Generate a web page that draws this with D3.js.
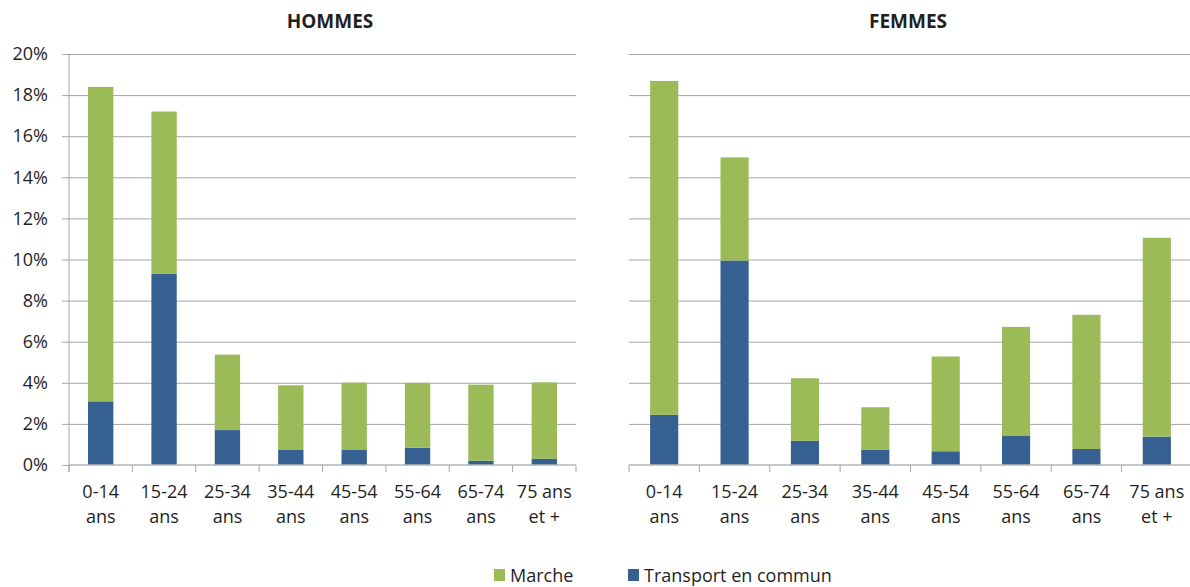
<!DOCTYPE html>
<html>
<head>
<meta charset="utf-8">
<script src="https://cdn.jsdelivr.net/npm/d3@7"></script>
<style>
  body { margin: 0; background: #fff; }
  text { font-family: "Open Sans", "Noto Sans", sans-serif; fill: #1f1f1f; }
</style>
</head>
<body>
<div id="chart"></div>
<script>
// age groups, each label on two lines
var ageGroups = ["0-14|ans", "15-24|ans", "25-34|ans", "35-44|ans", "45-54|ans", "55-64|ans", "65-74|ans", "75 ans|et +"];
var yTicks = [0, 2, 4, 6, 8, 10, 12, 14, 16, 18, 20];

// HOMMES (% of trips)
var hommesTransport = [3.1, 9.3, 1.7, 0.73, 0.73, 0.84, 0.21, 0.31];
var hommesMarche    = [15.3, 7.9, 3.67, 3.15, 3.28, 3.16, 3.70, 3.71];
// FEMMES
var femmesTransport = [2.44, 9.95, 1.18, 0.75, 0.67, 1.41, 0.78, 1.38];
var femmesMarche    = [16.25, 5.02, 3.04, 2.06, 4.61, 5.31, 6.53, 9.68];

var colTransport = "#376092";
var colMarche = "#9bbb59";

var svg = d3.select("#chart").append("svg")
    .attr("width", 1190)
    .attr("height", 587);

var y = d3.scaleLinear().domain([0, 20]).range([465, 54]);

function drawPanel(title, transport, marche, x0, x1, titleX, showAxis) {
    var g = svg.append("g");
    var x = d3.scaleBand().domain(ageGroups).range([x0, x1])
        .paddingInner(0.6).paddingOuter(0.3);
    var cat = d3.scaleBand().domain(ageGroups).range([x0, x1]);

    // gridlines
    g.append("g")
        .attr("transform", `translate(${x0},0)`)
        .call(d3.axisRight(y).tickValues(yTicks.slice(1)).tickSize(x1 - x0).tickFormat(""))
        .call(s => s.select(".domain").remove())
        .call(s => s.selectAll("line").attr("stroke", "#a5a5a5"));

    if (showAxis) {
        g.append("g")
            .attr("transform", `translate(${x0},0)`)
            .call(d3.axisLeft(y).tickValues(yTicks).tickSize(7).tickPadding(14).tickFormat(d => d + "%"))
            .call(s => s.select(".domain").attr("stroke", "#a5a5a5").attr("d", `M0,${y(20)}V${y(0) + 7}`))
            .call(s => s.selectAll("line").attr("stroke", "#a5a5a5"))
            .call(s => s.selectAll("text").style("font-size", "18px").attr("fill", "#1f1f1f"));
    }

    var data = ageGroups.map((a, i) => ({ age: a, t: transport[i], m: marche[i] }));

    g.selectAll("rect.t").data(data).enter().append("rect")
        .attr("x", d => x(d.age))
        .attr("width", x.bandwidth())
        .attr("y", d => y(d.t))
        .attr("height", d => y(0) - y(d.t))
        .attr("fill", colTransport);

    g.selectAll("rect.m").data(data).enter().append("rect")
        .attr("x", d => x(d.age))
        .attr("width", x.bandwidth())
        .attr("y", d => y(d.t + d.m))
        .attr("height", d => y(d.t) - y(d.t + d.m))
        .attr("fill", colMarche);

    // baseline + category ticks
    g.append("line")
        .attr("x1", x0).attr("x2", x1)
        .attr("y1", y(0)).attr("y2", y(0))
        .attr("stroke", "#b4b4b4").attr("stroke-width", 1.5);
    var bounds = ageGroups.map(a => cat(a)).concat([x1]);
    g.selectAll("line.tk").data(bounds).enter().append("line")
        .attr("x1", d => d).attr("x2", d => d)
        .attr("y1", y(0)).attr("y2", y(0) + 7)
        .attr("stroke", "#a5a5a5");

    // category labels
    var lab = g.selectAll("text.cat").data(ageGroups).enter().append("text")
        .attr("x", d => cat(d) + cat.bandwidth() / 2)
        .attr("y", 498)
        .attr("text-anchor", "middle")
        .style("font-size", "18px");
    lab.append("tspan").text(d => d.split("|")[0]);
    lab.append("tspan").attr("x", d => cat(d) + cat.bandwidth() / 2).attr("dy", 25).text(d => d.split("|")[1]);

    g.append("text")
        .attr("x", titleX).attr("y", 28)
        .attr("text-anchor", "middle")
        .style("font-size", "19px").style("font-weight", "bold")
        .attr("fill", "#000")
        .text(title);
}

drawPanel("HOMMES", hommesTransport, hommesMarche, 69, 576, 330, true);
drawPanel("FEMMES", femmesTransport, femmesMarche, 629, 1192, 908, false);

// legend
var legend = [
    { name: "Marche", color: colMarche, x: 494 },
    { name: "Transport en commun", color: colTransport, x: 628 }
];
var lg = svg.selectAll("g.leg").data(legend).enter().append("g")
    .attr("transform", d => `translate(${d.x},569)`);
lg.append("rect").attr("width", 11).attr("height", 12).attr("fill", d => d.color);
lg.append("text").attr("x", 16).attr("y", 12.5)
    .style("font-size", "18px")
    .text(d => d.name);
</script>
</body>
</html>
